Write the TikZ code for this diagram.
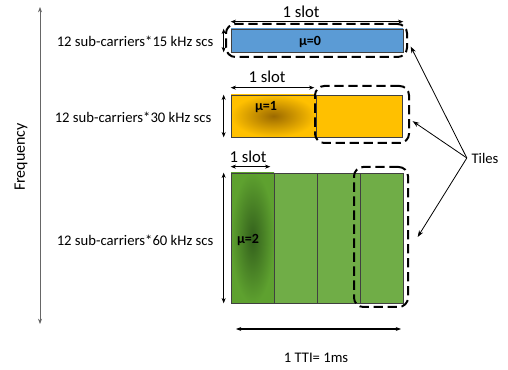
\documentclass[tikz,border=0pt]{standalone}
\usepackage{fontspec}
\setmainfont{Carlito}
\usetikzlibrary{positioning, arrows.meta}
\definecolor{slotblue}{HTML}{5B9BD5}
\definecolor{slotbluedk}{HTML}{2F679E}
\definecolor{slotorange}{HTML}{FFC000}
\definecolor{slotorangedk}{HTML}{9C6A00}
\definecolor{slotgreen}{HTML}{70AD47}
\definecolor{slotgreenlt}{HTML}{5EA12F}
\definecolor{slotgreendk}{HTML}{33601C}

\begin{document}
\begin{tikzpicture}[x=0.75pt, y=-0.75pt, font=\fontsize{11}{13}\selectfont,
    cell/.style={draw=black!75, line width=0.5pt, inner sep=0pt},
    tile/.style={draw, line width=1.5pt, dash pattern=on 7pt off 3.5pt,
                 rounded corners=7pt, inner sep=0pt},
    dim/.style={{Stealth[length=4pt,width=3pt]}-{Stealth[length=4pt,width=3pt]}, line width=0.5pt},
    pointer/.style={-{Stealth[length=5pt,width=3.5pt]}, line width=0.6pt},
    slotlbl/.style={font=\fontsize{12.5}{14}\selectfont},
    mulbl/.style={font=\fontsize{10.5}{12}\selectfont\bfseries}]

    \useasboundingbox (0,0) rectangle (508,370);

    % Nodes
    \node[cell, minimum width=129pt, minimum height=17.25pt,
          left color=slotblue, middle color=slotbluedk, right color=slotblue] (b0) at (317,40.5) {};
    \node[cell, minimum width=63.75pt, minimum height=31.5pt,
          inner color=slotorangedk, outer color=slotorange] (o1) at (273.5,116) {};
    \node[cell, minimum width=64.5pt, minimum height=31.5pt, fill=slotorange] (o2) at (359,116) {};
    \node[cell, minimum width=32.25pt, minimum height=97.5pt,
          inner color=slotgreendk, outer color=slotgreenlt] (g1) at (252.5,238) {};
    \node[cell, minimum width=32.25pt, minimum height=97.5pt, fill=slotgreen] (g2) at (295.5,238) {};
    \node[cell, minimum width=32.25pt, minimum height=97.5pt, fill=slotgreen] (g3) at (338.5,238) {};
    \node[cell, minimum width=32.25pt, minimum height=97.5pt, fill=slotgreen] (g4) at (381.5,238) {};

    \node[mulbl] (mu0) at (310,42) {μ=0};
    \node[mulbl] (mu1) at (266,107) {μ=1};
    \node[mulbl] (mu2) at (248,240) {μ=2};

    \node[tile, minimum width=135.75pt, minimum height=24.75pt] (t0) at (316.5,40.5) {};
    \node[tile, minimum width=70.5pt, minimum height=42.75pt] (t1) at (362,114.5) {};
    \node[tile, minimum width=40.5pt, minimum height=105pt] (t2) at (381,237) {};

    \node[anchor=east] (scs0) at (218,41) {12 sub-carriers*15 kHz scs};
    \node[anchor=east] (scs1) at (216,117) {12 sub-carriers*30 kHz scs};
    \node[anchor=east] (scs2) at (218,240) {12 sub-carriers*60 kHz scs};

    \node[slotlbl] (slot0) at (301,12) {1 slot};
    \node[slotlbl] (slot1) at (267,77) {1 slot};
    \node[slotlbl] (slot2) at (248,157) {1 slot};

    \node[rotate=90, font=\fontsize{12}{14}\selectfont] (freq) at (21,157) {Frequency};
    \node (tti) at (316,358) {1 TTI= 1ms};
    \node (tiles) at (485,158) {Tiles};

    \coordinate (ftop) at (40,7);
    \coordinate (fbot) at (40,324);
    \coordinate (ttil) at (236,329);
    \coordinate (ttir) at (401,329);

    % Edges
    \draw[dim] ([yshift=5.25pt]b0.north west) -- ([yshift=5.25pt]b0.north east);
    \draw[dim] ([yshift=5.25pt]o1.north west) -- ([yshift=5.25pt,xshift=-1.5pt]o1.north east);
    \draw[dim] ([yshift=4.5pt]g1.north west) -- ([yshift=4.5pt,xshift=-3pt]g1.north east);

    \draw[dim] ([xshift=-5.25pt]b0.north west) -- ([xshift=-5.25pt]b0.south west);
    \draw[dim] ([xshift=-5.25pt]o1.north west) -- ([xshift=-5.25pt]o1.south west);
    \draw[dim] ([xshift=-5.25pt]g1.north west) -- ([xshift=-5.25pt]g1.south west);

    \draw[dim, draw=black!60] (fbot) -- (ftop);
    \draw[dim, line width=1.1pt] (ttil) -- (ttir);

    \draw[pointer] (tiles.west) -- ([xshift=2pt,yshift=-4.5pt]t0.east);
    \draw[pointer] (tiles.west) -- ([xshift=2pt,yshift=-5pt]t1.east);
    \draw[pointer] (tiles.west) -- ([xshift=6.5pt]t2.east);

\end{tikzpicture}
\end{document}
